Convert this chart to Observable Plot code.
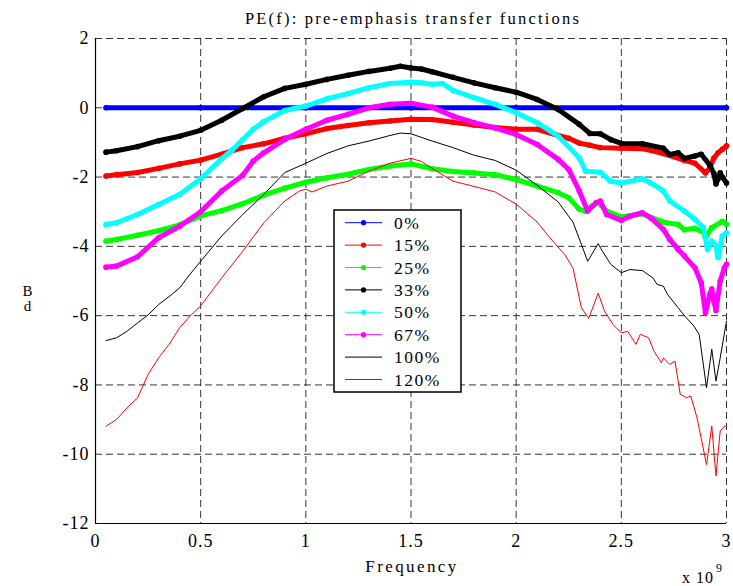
<!DOCTYPE html>
<html>
<head>
<meta charset="utf-8">
<script src="https://cdn.jsdelivr.net/npm/d3@7"></script>
<script src="https://cdn.jsdelivr.net/npm/@observablehq/plot@0.6"></script>
<style>
  html, body { margin: 0; padding: 0; background: #fff; }
  svg text { font-family: "Liberation Serif", "Times New Roman", serif; }
</style>
</head>
<body>
<div id="chart"></div>
<script>
// ---- tick labels ----
const xTicks = [0, 0.5, 1, 1.5, 2, 2.5, 3];
const yTicks = [-12, -10, -8, -6, -4, -2, 0, 2];
const legendLabels = ["0%", "15%", "25%", "33%", "50%", "67%", "100%", "120%"];

// ---- series (frequency in units of 1e9, value in dB) ----
const f0 = [0.05, 0.5, 1, 1.5, 2, 2.5, 3];
const v0 = [0, 0, 0, 0, 0, 0, 0];

const f15 = [0.05,0.1,0.2,0.3,0.4,0.5,0.6,0.7,0.8,0.9,1.0,1.1,1.2,1.3,1.4,1.5,1.6,1.7,1.8,1.9,2.0,2.1,2.2,2.25,2.3,2.35,2.4,2.5,2.6,2.7,2.8,2.85,2.9,2.92,2.94,2.96,2.98,3.0];
const v15 = [-1.97,-1.93,-1.87,-1.75,-1.62,-1.51,-1.34,-1.15,-1.04,-0.88,-0.75,-0.6,-0.51,-0.43,-0.38,-0.33,-0.34,-0.42,-0.5,-0.57,-0.62,-0.62,-0.8,-0.88,-1.02,-1.08,-1.15,-1.17,-1.18,-1.32,-1.52,-1.6,-1.88,-1.75,-1.45,-1.3,-1.2,-1.1];

const f25 = [0.05,0.1,0.2,0.3,0.4,0.5,0.6,0.7,0.8,0.9,1.0,1.1,1.2,1.3,1.4,1.5,1.6,1.7,1.8,1.9,2.0,2.1,2.2,2.25,2.3,2.33,2.36,2.39,2.43,2.5,2.6,2.7,2.77,2.8,2.85,2.89,2.9,2.93,2.98,3.0];
const v25 = [-3.85,-3.8,-3.68,-3.55,-3.38,-3.12,-2.97,-2.77,-2.52,-2.32,-2.15,-2.02,-1.92,-1.78,-1.68,-1.62,-1.76,-1.84,-1.88,-1.93,-2.07,-2.26,-2.45,-2.6,-2.93,-2.98,-2.84,-2.74,-2.98,-3.15,-3.06,-3.3,-3.37,-3.52,-3.48,-3.6,-3.75,-3.46,-3.28,-3.36];

const f33 = [0.05,0.1,0.2,0.3,0.4,0.5,0.6,0.7,0.8,0.9,1.0,1.1,1.2,1.3,1.4,1.45,1.5,1.55,1.6,1.7,1.8,1.9,2.0,2.1,2.2,2.3,2.35,2.4,2.45,2.5,2.6,2.7,2.73,2.77,2.8,2.85,2.88,2.92,2.94,2.95,2.96,2.97,2.98,3.0];
const v33 = [-1.28,-1.24,-1.12,-0.95,-0.82,-0.65,-0.36,-0.02,0.32,0.56,0.68,0.82,0.94,1.05,1.14,1.2,1.15,1.12,1.04,0.88,0.72,0.58,0.45,0.24,-0.05,-0.48,-0.74,-0.75,-0.92,-1.03,-1.04,-1.17,-1.35,-1.3,-1.46,-1.39,-1.34,-1.65,-1.9,-2.2,-2.05,-1.88,-2.0,-2.17];

const f50 = [0.05,0.1,0.2,0.3,0.4,0.5,0.6,0.65,0.7,0.75,0.8,0.9,1.0,1.1,1.2,1.3,1.4,1.5,1.55,1.6,1.65,1.7,1.8,1.9,2.0,2.1,2.2,2.3,2.33,2.4,2.45,2.5,2.6,2.64,2.7,2.73,2.8,2.85,2.89,2.91,2.93,2.95,2.96,2.98,3.0];
const v50 = [-3.37,-3.32,-3.08,-2.79,-2.5,-2.05,-1.47,-1.22,-0.92,-0.62,-0.4,-0.08,0.05,0.26,0.41,0.58,0.7,0.74,0.72,0.68,0.7,0.5,0.29,0.1,-0.14,-0.43,-0.82,-1.44,-1.83,-1.86,-2.12,-2.17,-2.05,-2.17,-2.4,-2.69,-2.98,-3.22,-3.46,-4.09,-3.85,-3.99,-4.33,-3.7,-3.61];

const f67 = [0.05,0.1,0.2,0.3,0.4,0.5,0.6,0.7,0.75,0.8,0.9,1.0,1.1,1.2,1.3,1.4,1.5,1.6,1.7,1.8,1.9,2.0,2.1,2.2,2.25,2.3,2.34,2.38,2.4,2.43,2.5,2.54,2.6,2.64,2.7,2.73,2.77,2.8,2.85,2.88,2.9,2.92,2.93,2.94,2.95,2.97,2.99,3.0];
const v67 = [-4.6,-4.57,-4.3,-3.75,-3.42,-3.0,-2.4,-1.95,-1.54,-1.3,-0.91,-0.62,-0.36,-0.19,0.0,0.1,0.13,0.02,-0.24,-0.43,-0.58,-0.77,-1.06,-1.49,-1.78,-2.4,-2.98,-2.74,-2.69,-3.08,-3.25,-3.13,-3.03,-3.18,-3.51,-3.8,-4.09,-4.28,-4.62,-5.05,-5.92,-5.39,-5.23,-5.58,-5.85,-5.0,-4.62,-4.52];

const f100 = [0.05,0.1,0.15,0.2,0.25,0.3,0.35,0.4,0.45,0.5,0.6,0.7,0.8,0.9,1.0,1.1,1.2,1.3,1.4,1.45,1.5,1.6,1.7,1.8,1.9,2.0,2.1,2.2,2.27,2.31,2.34,2.39,2.41,2.45,2.5,2.54,2.6,2.65,2.67,2.7,2.72,2.77,2.8,2.845,2.87,2.905,2.93,2.95,2.97,3.0];
const v100 = [-6.72,-6.64,-6.45,-6.21,-5.98,-5.68,-5.45,-5.2,-4.8,-4.43,-3.7,-3.08,-2.5,-1.87,-1.6,-1.32,-1.1,-0.96,-0.8,-0.73,-0.75,-0.96,-1.15,-1.37,-1.52,-1.8,-2.24,-2.72,-3.3,-3.94,-4.43,-3.92,-4.14,-4.52,-4.76,-4.67,-4.7,-4.91,-5.1,-5.15,-5.39,-5.77,-6.0,-6.3,-6.54,-8.08,-6.97,-7.89,-7.22,-6.16];

const f120 = [0.05,0.1,0.15,0.2,0.25,0.3,0.35,0.4,0.45,0.5,0.6,0.7,0.8,0.9,0.97,1.0,1.03,1.1,1.2,1.3,1.4,1.5,1.55,1.6,1.7,1.8,1.9,2.0,2.1,2.16,2.23,2.27,2.31,2.345,2.39,2.42,2.46,2.5,2.53,2.57,2.59,2.63,2.655,2.69,2.7,2.73,2.755,2.78,2.81,2.83,2.86,2.905,2.93,2.95,2.97,2.99,3.0];
const v120 = [-9.19,-9.0,-8.66,-8.37,-7.7,-7.22,-6.83,-6.35,-6.01,-5.72,-4.91,-4.14,-3.32,-2.69,-2.4,-2.35,-2.43,-2.26,-2.12,-1.83,-1.6,-1.46,-1.55,-1.75,-2.12,-2.27,-2.43,-2.78,-3.3,-3.75,-4.23,-4.62,-5.77,-6.08,-5.35,-5.87,-6.25,-6.5,-6.45,-6.83,-6.54,-6.64,-7.02,-7.36,-7.22,-7.41,-7.31,-8.27,-8.37,-8.32,-8.95,-10.3,-9.19,-10.63,-9.33,-9.19,-9.19];

// ---- styles (kept apart from the data) ----
const styles = [
  {color: "#0000ff", marker: true},
  {color: "#ff0000", marker: true},
  {color: "#00ff00", marker: true},
  {color: "#000000", marker: true},
  {color: "#00ffff", marker: true},
  {color: "#ff00ff", marker: true},
  {color: "#000000", marker: false},
  {color: "#ff0000", marker: false}
];
const freqs = [f0, f15, f25, f33, f50, f67, f100, f120];
const vals = [v0, v15, v25, v33, v50, v67, v100, v120];

const series = freqs.map((fs, i) => fs.map((f, j) => ({f, v: vals[i][j], name: legendLabels[i]})));

const seriesMarks = [];
series.forEach((data, i) => {
  const s = styles[i];
  if (s.marker) {
    seriesMarks.push(Plot.line(data, {x: "f", y: "v", stroke: s.color, strokeWidth: 5, strokeLinejoin: "round", strokeLinecap: "round"}));
    seriesMarks.push(Plot.dot(data, {x: "f", y: "v", r: 2.8, fill: s.color, stroke: "none"}));
  } else {
    seriesMarks.push(Plot.line(data, {x: "f", y: "v", stroke: s.color, strokeWidth: 1}));
  }
});

const W = 733, H = 586;
const mL = 95, mR = 7, mT = 38, mB = 63;

const svgEl = Plot.plot({
  width: W, height: H,
  marginLeft: mL, marginRight: mR, marginTop: mT, marginBottom: mB,
  style: {fontFamily: "'Liberation Serif', 'Times New Roman', serif", fontSize: "18px", background: "#fff", color: "#000", overflow: "visible"},
  x: {domain: [0, 3], ticks: xTicks, tickFormat: d => String(d), tickSize: 0, tickPadding: 11, label: null},
  y: {domain: [-12, 2], ticks: yTicks, tickFormat: d => String(d), tickSize: 0, tickPadding: 6, label: null},
  marks: [
    Plot.ruleX(xTicks.slice(1), {stroke: "#000", strokeOpacity: 0.8, strokeWidth: 1, strokeDasharray: "7,4"}),
    Plot.ruleY(yTicks.slice(1), {stroke: "#000", strokeOpacity: 0.8, strokeWidth: 1, strokeDasharray: "7,4"}),
    Plot.ruleX([xTicks[0]], {stroke: "#000", strokeWidth: 1.2}),
    Plot.ruleY([yTicks[0]], {stroke: "#000", strokeWidth: 1.2}),
    ...seriesMarks
  ]
});

document.getElementById("chart").appendChild(svgEl);
const svg = d3.select(svgEl);
svg.selectAll("g[aria-label='x-axis tick label'] text, g[aria-label='y-axis tick label'] text, g[aria-label='x-axis'] text, g[aria-label='y-axis'] text")
  .style("letter-spacing", "1px");

const font = "'Liberation Serif', 'Times New Roman', serif";

// title
svg.append("text")
  .attr("x", 413).attr("y", 24)
  .attr("text-anchor", "middle")
  .attr("font-family", font).attr("font-size", 16.5)
  .style("letter-spacing", "2.2px")
  .attr("fill", "#000")
  .text("PE(f): pre-emphasis transfer functions");

// x label
svg.append("text")
  .attr("x", 412).attr("y", 572)
  .attr("text-anchor", "middle")
  .attr("font-family", font).attr("font-size", 17)
  .style("letter-spacing", "2.4px")
  .attr("fill", "#000")
  .text("Frequency");

// x multiplier
const mult = svg.append("text")
  .attr("x", 682).attr("y", 583)
  .attr("text-anchor", "start")
  .attr("font-family", font).attr("font-size", 16)
  .style("letter-spacing", "1px")
  .attr("fill", "#000");
mult.append("tspan").text("x 10");
mult.append("tspan").attr("dy", -11).attr("font-size", 12).attr("dx", 2).text("9");

// y label (MATLAB-style stacked "dB")
svg.append("text").attr("x", 27.5).attr("y", 295.5).attr("text-anchor", "middle")
  .attr("font-family", font).attr("font-size", 15).attr("fill", "#000").text("B");
svg.append("text").attr("x", 27.5).attr("y", 311).attr("text-anchor", "middle")
  .attr("font-family", font).attr("font-size", 15).attr("fill", "#000").text("d");

// legend
const lg = svg.append("g").attr("aria-label", "legend");
lg.append("rect").attr("x", 334).attr("y", 210).attr("width", 127).attr("height", 182)
  .attr("fill", "#fff").attr("stroke", "#000").attr("stroke-width", 1.5);
legendLabels.forEach((lab, i) => {
  const yy = 222.7 + i * 22.4;
  const s = styles[i];
  lg.append("line").attr("x1", 345).attr("x2", 382).attr("y1", yy).attr("y2", yy)
    .attr("stroke", s.color).attr("stroke-width", 1);
  if (s.marker) {
    lg.append("circle").attr("cx", 363.5).attr("cy", yy).attr("r", 2.6).attr("fill", s.color);
  }
  lg.append("text").attr("x", 394).attr("y", yy + 6)
    .attr("text-anchor", "start")
    .attr("font-family", font).attr("font-size", 17.5)
    .style("letter-spacing", "1.5px")
    .attr("fill", "#000").text(lab);
});
</script>
</body>
</html>
